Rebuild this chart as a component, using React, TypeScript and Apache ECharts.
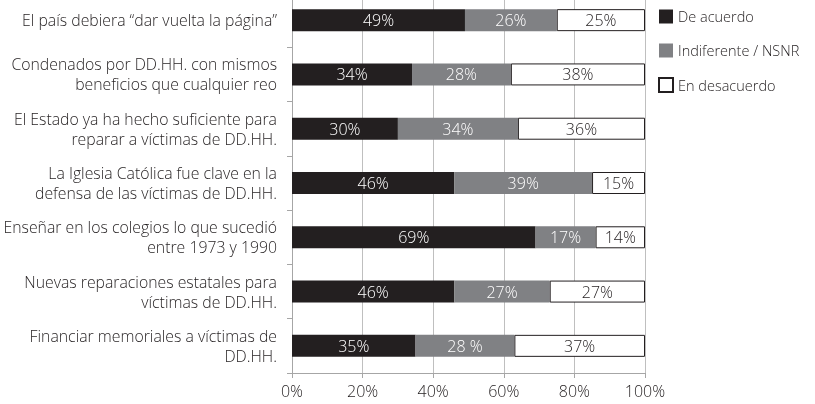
import React, { useEffect, useRef } from "react";
import * as echarts from "echarts";

const categories = [
  "El país debiera “dar vuelta la página”",
  "Condenados por DD.HH. con mismos\nbeneficios que cualquier reo",
  "El Estado ya ha hecho suficiente para\nreparar a víctimas de DD.HH.",
  "La Iglesia Católica fue clave en la\ndefensa de las víctimas de DD.HH.",
  "Enseñar en los colegios lo que sucedió\nentre 1973 y 1990",
  "Nuevas reparaciones estatales para\nvíctimas de DD.HH.",
  "Financiar memoriales a víctimas de\nDD.HH.",
];
const deAcuerdo = [49, 34, 30, 46, 69, 46, 35];
const indiferente = [26, 28, 34, 39, 17, 27, 28];
const desacuerdo = [25, 38, 36, 15, 14, 27, 37];
const indiferenteLabels = ["26%", "28%", "34%", "39%", "17%", "27%", "28 %"];
const xTicks = [0, 20, 40, 60, 80, 100];

const FONT = "'Open Sans', sans-serif";
const DARK = "#231f20";

export default function App() {
  const ref = useRef<HTMLDivElement>(null);
  useEffect(() => {
    if (!ref.current) return;
    const chart = echarts.init(ref.current, null, { renderer: "svg" });
    const lbl = (color: string) => ({
      show: true,
      position: "inside" as const,
      color,
      fontFamily: FONT,
      fontWeight: 300,
      fontSize: 16,
      formatter: (p: any) => p.value + "%",
    });
    chart.setOption({
      animation: false,
      textStyle: { fontFamily: FONT },
      grid: { left: 292, right: 170, top: 0, bottom: 31, containLabel: false },
      legend: {
        orient: "vertical",
        left: 653,
        top: 11,
        itemWidth: 14,
        itemHeight: 14,
        itemGap: 19,
        icon: "rect",
        textStyle: { fontFamily: FONT, fontWeight: 300, fontSize: 14.5, color: DARK },
        data: ["De acuerdo", "Indiferente / NSNR", "En desacuerdo"],
      },
      xAxis: {
        type: "value",
        min: 0,
        max: 100,
        interval: 20,
        axisLine: { show: true, lineStyle: { color: "#a6a6a6" } },
        axisTick: { show: true, length: 5, lineStyle: { color: "#a6a6a6" } },
        axisLabel: {
          formatter: (v: number) => (xTicks.includes(v) ? v + "%" : ""),
          fontFamily: FONT,
          fontWeight: 300,
          fontSize: 16,
          color: DARK,
          margin: 10,
        },
        splitLine: { show: true, lineStyle: { color: "#bfbfbf" } },
      },
      yAxis: {
        type: "category",
        inverse: true,
        data: categories,
        axisLine: { show: true, lineStyle: { color: "#a6a6a6" } },
        axisTick: { show: true, length: 5, lineStyle: { color: "#a6a6a6" } },
        axisLabel: {
          fontFamily: FONT,
          fontWeight: 300,
          fontSize: 15.8,
          color: DARK,
          margin: 15,
          lineHeight: 20,
          padding: [0, 0, 7, 0],
          align: "right",
        },
      },
      series: [
        {
          name: "De acuerdo",
          type: "bar",
          stack: "t",
          barWidth: 22,
          data: deAcuerdo,
          itemStyle: { color: DARK },
          label: lbl("#ffffff"),
        },
        {
          name: "Indiferente / NSNR",
          type: "bar",
          stack: "t",
          barWidth: 22,
          data: indiferente,
          itemStyle: { color: "#808184" },
          label: { ...lbl("#ffffff"), formatter: (p: any) => indiferenteLabels[p.dataIndex] },
        },
        {
          name: "En desacuerdo",
          type: "bar",
          stack: "t",
          barWidth: 22,
          data: desacuerdo,
          itemStyle: { color: "#ffffff", borderColor: DARK, borderWidth: 1 },
          label: lbl(DARK),
        },
      ],
    });
    return () => chart.dispose();
  }, []);
  return (
    <div style={{ position: "fixed", left: 0, top: 0, width: 815, height: 404, overflow: "hidden" }}>
      <div ref={ref} style={{ position: "absolute", left: 0, top: -7, width: 815, height: 411 }} />
    </div>
  );
}
